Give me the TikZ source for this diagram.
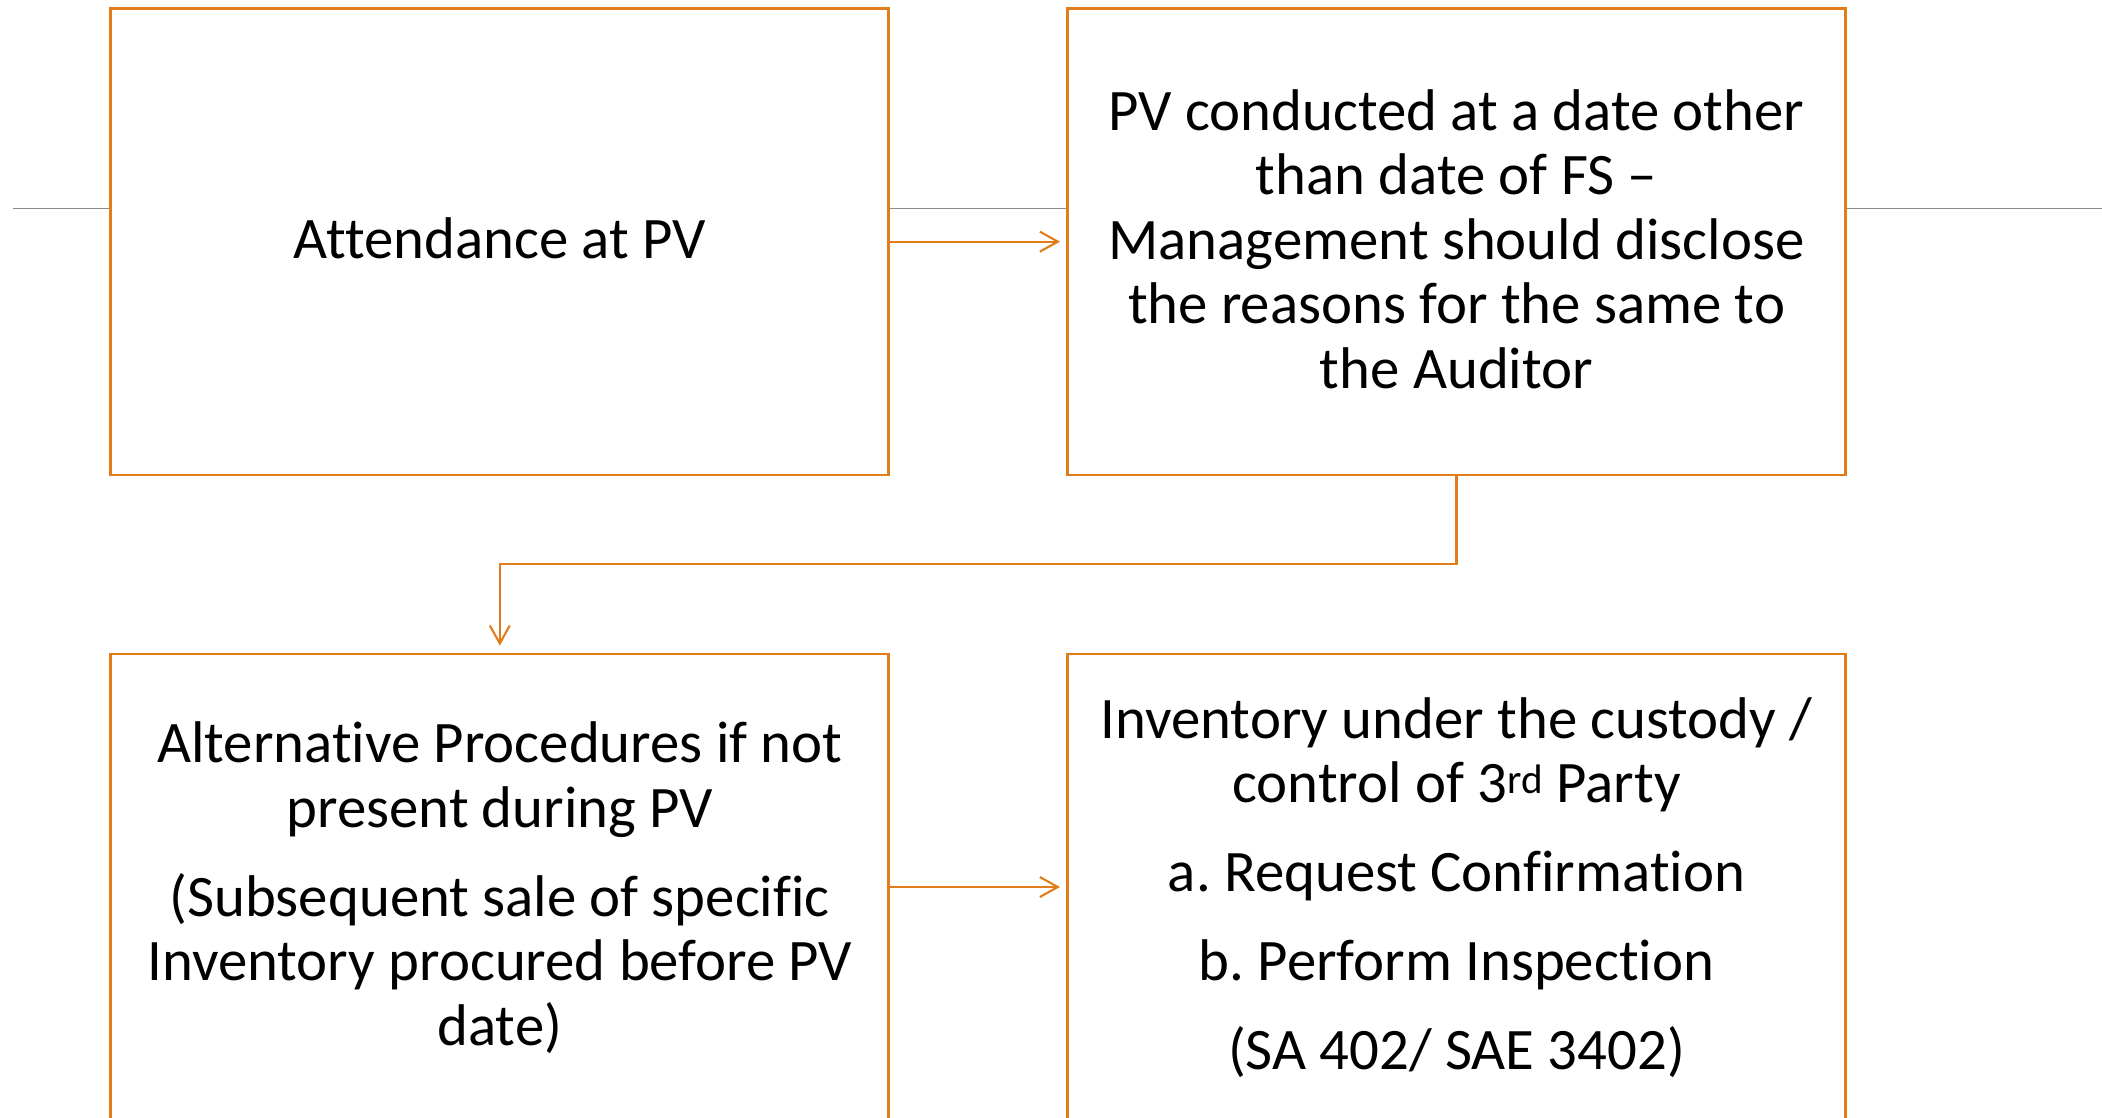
\documentclass[tikz,border=0pt]{standalone}
\usepackage{fontspec}
\setmainfont[Ligatures={NoCommon}]{Carlito}
\usetikzlibrary{arrows.meta}
\definecolor{boxorange}{RGB}{224,125,26}
\definecolor{rulegrey}{RGB}{140,140,140}
\frenchspacing
\begin{document}
\begin{tikzpicture}[x=1pt,y=1pt,
  stepbox/.style={draw=boxorange, fill=white, line width=2.8pt, minimum width=778pt,
    inner sep=0pt, outer sep=0pt, anchor=north west},
  link/.style={draw=boxorange, line width=2.1pt, -{Straight Barb[length=18pt,width=20pt]}},
  divider/.style={draw=rulegrey, line width=1.3pt},
  bodytext/.style={align=center, inner sep=0pt, anchor=base,
    font=\fontsize{58.8}{64.5}\selectfont}]
\useasboundingbox (0,0) rectangle (2102,-1117);

% thin rule running behind the top row
\coordinate (ruleL) at (13.3,-208.7);
\coordinate (ruleR) at (2102,-208.7);
\draw[divider] (ruleL) -- (ruleR);

% top row
\node[stepbox, minimum height=466.7pt] (b1) at (110.8,-8.3) {};
\node[stepbox, minimum height=466.7pt] (b2) at (1067.5,-8.3) {};

% bottom row (boxes run past the lower edge)
\node[stepbox, minimum height=600pt] (b3) at (110.8,-654) {};
\node[stepbox, minimum height=600pt] (b4) at (1067.5,-654) {};

% box texts, placed by the baseline of their last line
\node[bodytext] (t1) at ([yshift=-250pt]b1.north) {Attendance at PV};
\node[bodytext] (t2) at ([yshift=-380pt]b2.north)
  {PV conducted at a date other\\than date of FS \textendash\\Management should disclose\\the reasons for the same to\\the Auditor};
\node[bodytext] (t3) at ([yshift=-391pt]b3.north)
  {Alternative Procedures if not\\present during PV\\[24.4pt]
   (Subsequent sale of specific\\Inventory procured before PV\\date)};
\node[bodytext] (t4) at ([yshift=-415.5pt]b4.north)
  {Inventory under the custody /\\control of 3\textsuperscript{rd} Party\\[24.4pt]
   a. Request Confirmation\\[24.4pt]
   b. Perform Inspection\\[24.4pt]
   (SA 402/ SAE 3402)};

% connectors
\draw[link, shorten >=7.5pt] (b1.east) -- (b2.west);
\draw[link, shorten >=8.4pt] (b2.south) -- ++(0,-89.3) -| (b3.north);
\draw[link, shorten >=7.5pt] ([yshift=-233pt]b3.north east) -- ([yshift=-233pt]b4.north west);
\end{tikzpicture}
\end{document}
